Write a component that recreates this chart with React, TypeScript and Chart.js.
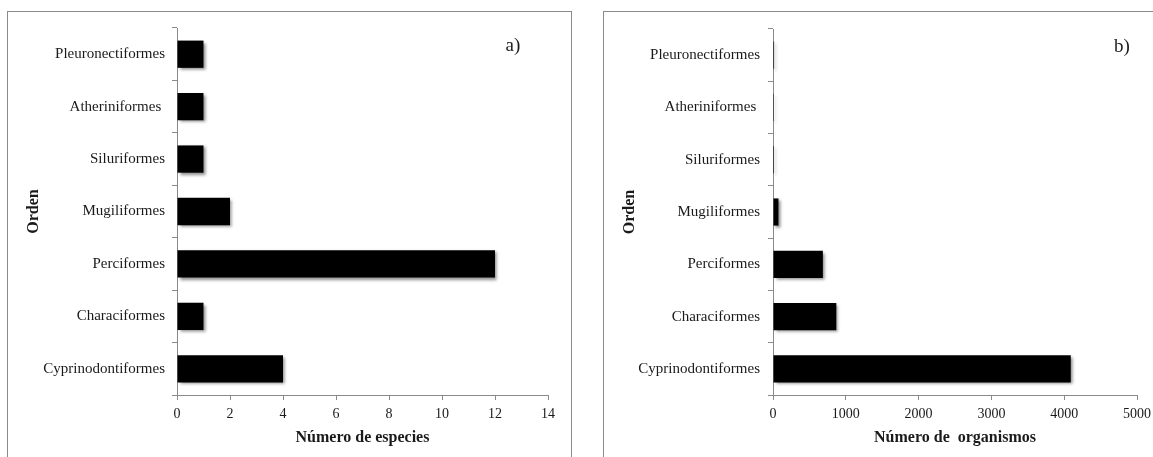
import React, { useEffect, useRef } from "react";
import { Chart, registerables } from "chart.js";

Chart.register(...registerables);

// Fish orders, listed top to bottom
const orders = [
  "Pleuronectiformes",
  "Atheriniformes ",
  "Siluriformes",
  "Mugiliformes",
  "Perciformes",
  "Characiformes",
  "Cyprinodontiformes",
];

// a) number of species per order
const speciesCount = [1, 1, 1, 2, 12, 1, 4];
const speciesAxisMax = 14;
const speciesAxisStep = 2;

// b) number of organisms per order
const organismCount = [15, 12, 14, 75, 685, 870, 4090];
const organismAxisMax = 5000;
const organismAxisStep = 1000;

const FONT = "'Liberation Serif', 'Times New Roman', serif";
const AXIS_GRAY = "#8a8a8a";
const TEXT = "#1a1a1a";

// Soft drop shadow behind the bars
const barShadow = {
  id: "barShadow",
  beforeDatasetsDraw(chart: any) {
    const ctx = chart.ctx;
    ctx.save();
    ctx.shadowColor = "rgba(0,0,0,0.45)";
    ctx.shadowOffsetX = 2;
    ctx.shadowOffsetY = 2;
    ctx.shadowBlur = 3;
  },
  afterDatasetsDraw(chart: any) {
    chart.ctx.restore();
  },
};

// Panel letter in the upper right corner of the plot
const panelTag = {
  id: "panelTag",
  afterDraw(chart: any, _args: any, opts: any) {
    if (!opts || !opts.text) return;
    const { ctx, chartArea } = chart;
    ctx.save();
    ctx.font = `19px ${FONT}`;
    ctx.fillStyle = TEXT;
    ctx.textAlign = "center";
    ctx.textBaseline = "middle";
    ctx.fillText(opts.text, chartArea.right - opts.inset, chartArea.top + opts.dy);
    ctx.restore();
  },
};

type PanelProps = {
  left: number;
  width: number;
  values: number[];
  max: number;
  step: number;
  xTitle: string;
  tag: string;
  tagInset: number;
  rightPad: number;
  labelPad: number;
};

const PANEL_H = 470;

function Panel(p: PanelProps) {
  const ref = useRef<HTMLCanvasElement | null>(null);

  useEffect(() => {
    if (!ref.current) return;
    const chart = new Chart(ref.current, {
      type: "bar",
      data: {
        labels: orders,
        datasets: [
          {
            data: p.values,
            backgroundColor: "#000000",
            borderWidth: 0,
            categoryPercentage: 1,
            barPercentage: 0.52,
          },
        ],
      },
      plugins: [barShadow, panelTag],
      options: {
        indexAxis: "y",
        responsive: false,
        animation: false,
        events: [],
        layout: { padding: { left: 0, top: 13, right: p.rightPad, bottom: 0 } },
        plugins: {
          legend: { display: false },
          tooltip: { enabled: false },
          panelTag: { text: p.tag, inset: p.tagInset, dy: 18 },
        } as any,
        scales: {
          x: {
            min: 0,
            max: p.max,
            afterFit(scale: any) {
              scale.height = 85;
            },
            ticks: {
              stepSize: p.step,
              color: TEXT,
              font: { family: FONT, size: 14 },
              padding: 6,
              maxRotation: 0,
              callback: (v: any) => String(v),
            },
            grid: {
              drawOnChartArea: false,
              drawTicks: true,
              tickLength: 5,
              color: AXIS_GRAY,
            },
            border: { color: AXIS_GRAY, width: 1 },
            title: {
              display: true,
              text: p.xTitle,
              color: TEXT,
              font: { family: FONT, size: 16, weight: "bold" },
              padding: { top: 4, bottom: 33 },
            },
          },
          y: {
            afterFit(scale: any) {
              scale.width = 169;
            },
            ticks: {
              color: TEXT,
              font: { family: FONT, size: 15 },
              padding: p.labelPad,
            },
            grid: {
              drawOnChartArea: false,
              drawTicks: true,
              tickLength: 5,
              color: AXIS_GRAY,
              offset: true,
            },
            border: { color: AXIS_GRAY, width: 1 },
            title: {
              display: true,
              text: "Orden",
              color: TEXT,
              font: { family: FONT, size: 16, weight: "bold" },
              padding: { top: 16, bottom: 4 },
            },
          },
        },
      } as any,
    });
    return () => chart.destroy();
  }, []);

  return (
    <div
      style={{
        position: "absolute",
        left: p.left,
        top: 11,
        width: p.width,
        height: PANEL_H,
        border: `1px solid ${AXIS_GRAY}`,
        boxSizing: "border-box",
        background: "#fff",
      }}
    >
      <canvas
        ref={ref}
        width={p.width - 2}
        height={PANEL_H - 2}
        style={{ display: "block", width: p.width - 2, height: PANEL_H - 2 }}
      />
    </div>
  );
}

export default function App() {
  return (
    <div
      style={{
        position: "fixed",
        left: 0,
        top: 0,
        width: 1153,
        height: 457,
        overflow: "hidden",
        background: "#fff",
      }}
    >
      <Panel
        left={7}
        width={565}
        values={speciesCount}
        max={speciesAxisMax}
        step={speciesAxisStep}
        xTitle="Número de especies"
        tag="a)"
        tagInset={35}
        rightPad={23}
        labelPad={7}
      />
      <Panel
        left={603}
        width={600}
        values={organismCount}
        max={organismAxisMax}
        step={organismAxisStep}
        xTitle="Número de  organismos"
        tag="b)"
        tagInset={15}
        rightPad={65}
        labelPad={8}
      />
    </div>
  );
}
